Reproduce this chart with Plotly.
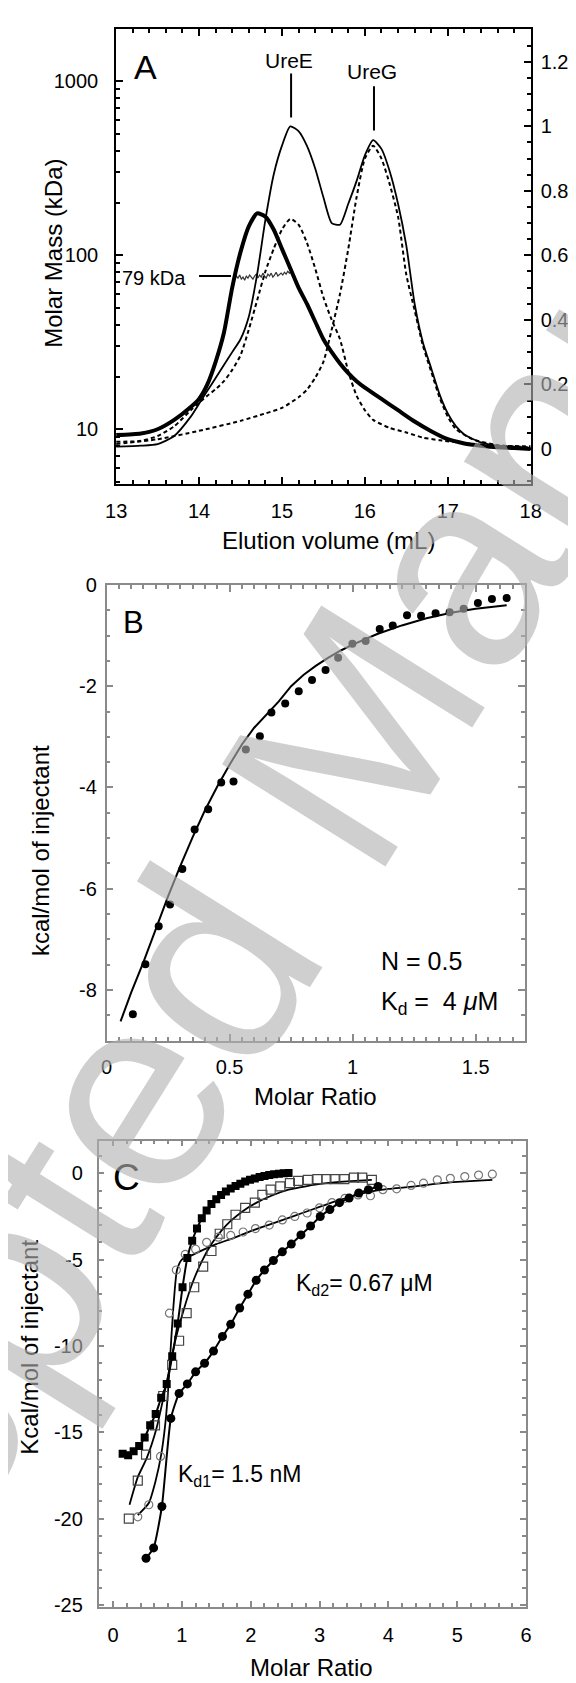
import plotly.graph_objects as go

W, H = 576, 1683
FONT = "Liberation Sans, Arial, Helvetica, sans-serif"

# ---------------- Panel A data ----------------
elution_thick_x = [13.0, 13.3, 13.5, 13.7, 13.9, 14.0, 14.1, 14.2, 14.3, 14.4, 14.5, 14.6, 14.7, 14.8, 14.9,
                   15.0, 15.1, 15.2, 15.3, 15.4, 15.5, 15.6, 15.7, 15.8, 15.9, 16.0, 16.2, 16.4, 16.6, 16.8,
                   17.0, 17.2, 17.4, 17.6, 17.8, 18.0]
elution_thick_y = [0.043, 0.048, 0.061, 0.09, 0.13, 0.155, 0.2, 0.27, 0.36, 0.5, 0.61, 0.69, 0.73, 0.72, 0.68,
                   0.62, 0.56, 0.5, 0.45, 0.395, 0.34, 0.3, 0.265, 0.235, 0.21, 0.19, 0.155, 0.12, 0.085, 0.055,
                   0.03, 0.017, 0.01, 0.005, 0.003, 0.0]

elution_thin_x = [13.0, 13.3, 13.5, 13.7, 13.9, 14.0, 14.1, 14.2, 14.3, 14.4, 14.5, 14.6, 14.7, 14.8, 14.9,
                  15.0, 15.1, 15.2, 15.3, 15.4, 15.5, 15.6, 15.7, 15.8, 15.9, 16.0, 16.1, 16.2, 16.3, 16.4,
                  16.5, 16.6, 16.7, 16.8, 16.9, 17.0, 17.1, 17.2, 17.4, 17.6, 18.0]
elution_thin_y = [0.007, 0.01, 0.015, 0.04, 0.1, 0.14, 0.18, 0.22, 0.26, 0.3, 0.34, 0.41, 0.54, 0.71, 0.85,
                  0.94, 1.0, 0.985, 0.94, 0.87, 0.78, 0.7, 0.695, 0.76, 0.83, 0.91, 0.957, 0.93, 0.86, 0.76,
                  0.63, 0.45, 0.33, 0.25, 0.17, 0.11, 0.07, 0.045, 0.02, 0.01, 0.003]

ureE_dash_x = [13.0, 13.3, 13.5, 13.7, 13.9, 14.0, 14.1, 14.2, 14.3, 14.4, 14.5, 14.6, 14.7, 14.8, 14.9,
               15.0, 15.1, 15.2, 15.3, 15.4, 15.5, 15.6, 15.7, 15.8, 15.9, 16.0, 16.1, 16.3, 16.5, 16.7,
               16.9, 17.2, 17.6, 18.0]
ureE_dash_y = [0.022, 0.025, 0.04, 0.07, 0.12, 0.143, 0.165, 0.185, 0.21, 0.245, 0.29, 0.37, 0.46, 0.55, 0.62,
               0.68, 0.713, 0.695, 0.64, 0.56, 0.47, 0.4, 0.34, 0.24, 0.165, 0.12, 0.09, 0.065, 0.051, 0.035,
               0.027, 0.018, 0.01, 0.008]

ureG_dash_x = [13.0, 13.5, 14.0, 14.5, 14.8, 15.0, 15.2, 15.3, 15.4, 15.5, 15.6, 15.7, 15.8, 15.9, 16.0,
               16.1, 16.2, 16.3, 16.4, 16.5, 16.6, 16.7, 16.8, 16.9, 17.0, 17.1, 17.3, 17.6, 18.0]
ureG_dash_y = [0.015, 0.03, 0.056, 0.087, 0.11, 0.127, 0.16, 0.183, 0.22, 0.27, 0.37, 0.48, 0.62, 0.78, 0.9,
               0.94, 0.9, 0.82, 0.72, 0.54, 0.43, 0.32, 0.24, 0.16, 0.1, 0.061, 0.03, 0.012, 0.005]

mass_x = [14.43, 14.45, 14.47, 14.49, 14.51, 14.53, 14.55, 14.57, 14.59, 14.61, 14.63, 14.65, 14.67, 14.69,
          14.71, 14.73, 14.75, 14.77, 14.79, 14.81, 14.83, 14.85, 14.87, 14.89, 14.91, 14.93, 14.95, 14.97,
          14.99, 15.01, 15.03, 15.05, 15.07, 15.09, 15.11, 15.13]
mass_kda = [73, 76, 74, 77, 73, 75, 72, 76, 74, 77, 75, 73, 76, 78, 74, 77, 75, 79, 76, 74, 78, 76, 79, 75,
            77, 80, 76, 78, 79, 77, 80, 78, 81, 79, 80, 78]

a_mass_ticks = [10, 100, 1000]
a_mass_minor = [5, 6, 7, 8, 9, 20, 30, 40, 50, 60, 70, 80, 90, 200, 300, 400, 500, 600, 700, 800, 900, 2000]

# ---------------- Panel B data ----------------
b_ratio = [0.107, 0.158, 0.212, 0.258, 0.308, 0.358, 0.413, 0.466, 0.516, 0.566, 0.623, 0.670, 0.726, 0.781,
           0.835, 0.890, 0.941, 0.999, 1.053, 1.110, 1.163, 1.221, 1.278, 1.337, 1.394, 1.451, 1.509, 1.566, 1.626]
b_heat = [-8.48, -7.49, -6.74, -6.31, -5.61, -4.83, -4.43, -3.90, -3.88, -3.25, -2.99, -2.52, -2.34, -2.10,
          -1.88, -1.68, -1.44, -1.16, -1.11, -0.87, -0.80, -0.60, -0.61, -0.56, -0.54, -0.47, -0.36, -0.28, -0.26]
b_fit_x = [0.057, 0.1, 0.15, 0.2, 0.25, 0.3, 0.35, 0.4, 0.45, 0.5, 0.55, 0.6, 0.65, 0.7, 0.75, 0.8, 0.85,
           0.9, 0.95, 1.0, 1.1, 1.2, 1.3, 1.4, 1.5, 1.626]
b_fit_y = [-8.62, -8.05, -7.45, -6.8, -6.15, -5.55, -4.98, -4.45, -3.98, -3.55, -3.15, -2.82, -2.55, -2.3,
           -2.0, -1.78, -1.6, -1.44, -1.3, -1.18, -0.97, -0.8, -0.66, -0.55, -0.47, -0.40]
b_ticks = [0, -2, -4, -6, -8]
b_ticktext = ["0", "-2", "-4", "-6", "-8"]

# ---------------- Panel C data ----------------
c_fsq_x = [0.14, 0.22, 0.30, 0.38, 0.46, 0.54, 0.62, 0.70, 0.78, 0.86, 0.94, 1.01, 1.08, 1.15, 1.22, 1.29,
           1.36, 1.43, 1.50, 1.57, 1.64, 1.71, 1.78, 1.85, 1.92, 1.99, 2.06, 2.13, 2.20, 2.27, 2.34, 2.41,
           2.48, 2.55]
c_fsq_y = [-16.25, -16.33, -16.1, -15.8, -15.3, -14.6, -13.95, -13.0, -12.2, -10.6, -8.7, -6.6, -4.9, -3.9,
           -3.2, -2.6, -2.15, -1.78, -1.5, -1.25, -1.05, -0.88, -0.73, -0.6, -0.48, -0.38, -0.3, -0.22, -0.16,
           -0.1, -0.06, -0.03, 0.0, 0.02]

c_osq_x = [0.23, 0.36, 0.48, 0.61, 0.73, 0.86, 0.96, 1.07, 1.18, 1.31, 1.43, 1.55, 1.66, 1.78, 1.92, 2.06,
           2.17, 2.29, 2.43, 2.57, 2.69, 2.83, 2.97, 3.10, 3.22, 3.36, 3.50, 3.62, 3.76]
c_osq_y = [-20.0, -17.8, -16.3, -14.6, -12.9, -11.1, -9.7, -8.1, -6.6, -5.4, -4.5, -3.5, -2.95, -2.4, -2.0,
           -1.7, -1.25, -0.95, -0.76, -0.57, -0.44, -0.38, -0.34, -0.34, -0.34, -0.34, -0.25, -0.25, -0.38]
c_osq_fit_x = [0.24, 0.36, 0.49, 0.63, 0.77, 0.91, 1.02, 1.15, 1.29, 1.43, 1.57, 1.71, 1.9, 2.08, 2.3, 2.55,
               2.8, 3.1, 3.4, 3.76]
c_osq_fit_y = [-19.2, -17.6, -16.5, -14.8, -12.3, -9.6, -8.0, -6.4, -5.1, -4.1, -3.35, -2.76, -2.15, -1.71,
               -1.3, -0.95, -0.75, -0.57, -0.47, -0.38]

c_oci_x = [0.36, 0.52, 0.69, 0.82, 0.92, 1.05, 1.20, 1.36, 1.53, 1.71, 1.89, 2.07, 2.27, 2.46, 2.64, 2.82,
           3.00, 3.18, 3.37, 3.56, 3.74, 3.92, 4.12, 4.33, 4.51, 4.71, 4.90, 5.11, 5.31, 5.51]
c_oci_y = [-19.9, -19.2, -16.4, -8.1, -5.6, -4.7, -4.4, -4.0, -3.7, -3.6, -3.4, -3.2, -3.0, -2.7, -2.5, -2.3,
           -2.0, -1.7, -1.45, -1.25, -1.3, -0.95, -0.9, -0.7, -0.57, -0.38, -0.29, -0.19, -0.1, -0.05]
c_oci_fit_x = [0.36, 0.52, 0.62, 0.70, 0.76, 0.80, 0.84, 0.88, 0.93, 1.0, 1.13, 1.3, 1.5, 1.75, 2.0, 2.25,
               2.5, 2.75, 3.0, 3.25, 3.5, 3.75, 4.0, 4.28, 4.5, 4.78, 5.0, 5.25, 5.51]
c_oci_fit_y = [-19.8, -19.1, -17.8, -16.3, -14.5, -12.6, -10.0, -7.6, -5.6, -5.0, -4.77, -4.45, -4.1, -3.75,
               -3.35, -3.0, -2.65, -2.3, -1.95, -1.6, -1.3, -1.05, -0.9, -0.8, -0.7, -0.57, -0.5, -0.44, -0.38]

c_fci_x = [0.48, 0.59, 0.71, 0.84, 0.96, 1.08, 1.20, 1.33, 1.46, 1.59, 1.71, 1.84, 1.96, 2.08, 2.20, 2.33,
           2.46, 2.59, 2.73, 2.87, 3.01, 3.15, 3.29, 3.43, 3.57, 3.71, 3.85]
c_fci_y = [-22.3, -21.7, -19.3, -14.2, -12.75, -12.2, -11.5, -11.0, -10.3, -9.45, -8.75, -7.8, -7.0, -6.2,
           -5.6, -5.05, -4.55, -4.1, -3.57, -3.05, -2.5, -2.1, -1.7, -1.43, -1.14, -0.95, -0.76]

c_ticks = [0, -5, -10, -15, -20, -25]
c_ticktext = ["0", "-5", "-10", "-15", "-20", "-25"]


def fx(px):
    return px / W


def fy(py):
    return 1 - py / H


fig = go.Figure()

# Panel A traces
fig.add_trace(go.Scatter(x=ureG_dash_x, y=ureG_dash_y, xaxis="x", yaxis="y2", mode="lines",
                         line=dict(color="black", width=2, dash="4px,3px", shape="spline", smoothing=0.6)))
fig.add_trace(go.Scatter(x=ureE_dash_x, y=ureE_dash_y, xaxis="x", yaxis="y2", mode="lines",
                         line=dict(color="black", width=2, dash="4px,3px", shape="spline", smoothing=0.6)))
fig.add_trace(go.Scatter(x=elution_thin_x, y=elution_thin_y, xaxis="x", yaxis="y2", mode="lines",
                         line=dict(color="black", width=1.8, shape="spline", smoothing=0.6)))
fig.add_trace(go.Scatter(x=elution_thick_x, y=elution_thick_y, xaxis="x", yaxis="y2", mode="lines",
                         line=dict(color="black", width=4, shape="spline", smoothing=0.6)))
fig.add_trace(go.Scatter(x=mass_x, y=mass_kda, xaxis="x", yaxis="y", mode="lines",
                         line=dict(color="#333333", width=1.2)))

# Panel B traces
fig.add_trace(go.Scatter(x=b_fit_x, y=b_fit_y, xaxis="x2", yaxis="y3", mode="lines",
                         line=dict(color="black", width=2)))
fig.add_trace(go.Scatter(x=b_ratio, y=b_heat, xaxis="x2", yaxis="y3", mode="markers",
                         marker=dict(color="black", size=8, symbol="circle")))

# Panel C traces
fig.add_trace(go.Scatter(x=c_osq_fit_x, y=c_osq_fit_y, xaxis="x3", yaxis="y4", mode="lines",
                         line=dict(color="black", width=1.8, shape="spline", smoothing=0.6)))
fig.add_trace(go.Scatter(x=c_oci_fit_x, y=c_oci_fit_y, xaxis="x3", yaxis="y4", mode="lines",
                         line=dict(color="black", width=1.8, shape="spline", smoothing=0.6)))
fig.add_trace(go.Scatter(x=c_osq_x, y=c_osq_y, xaxis="x3", yaxis="y4", mode="markers",
                         marker=dict(symbol="square-open", size=9, color="#444444", line=dict(width=1.2))))
fig.add_trace(go.Scatter(x=c_oci_x, y=c_oci_y, xaxis="x3", yaxis="y4", mode="markers",
                         marker=dict(symbol="circle-open", size=8, color="#777777", line=dict(width=1.2))))
fig.add_trace(go.Scatter(x=c_fsq_x, y=c_fsq_y, xaxis="x3", yaxis="y4", mode="lines+markers",
                         line=dict(color="black", width=2, shape="spline", smoothing=0.5),
                         marker=dict(symbol="square", size=8, color="black")))
fig.add_trace(go.Scatter(x=c_fci_x, y=c_fci_y, xaxis="x3", yaxis="y4", mode="lines+markers",
                         line=dict(color="black", width=2, shape="spline", smoothing=0.5),
                         marker=dict(symbol="circle", size=9, color="black")))

tickfont = dict(family=FONT, size=20, color="black")
GRAY = "#8a8a8a"

common = dict(ticks="inside", showgrid=False, zeroline=False, showline=True, tickfont=tickfont)

fig.update_layout(
    width=W, height=H, margin=dict(l=0, r=0, t=0, b=0),
    paper_bgcolor="white", plot_bgcolor="rgba(0,0,0,0)", showlegend=False,
    font=dict(family=FONT, color="black"),
    xaxis=dict(domain=[fx(101), fx(532)], anchor="y", range=[13, 18], tick0=13, dtick=1,
               linecolor="black", linewidth=2, tickcolor="black", ticklen=7, tickwidth=1.5,
               mirror="ticks", ticklabelstandoff=8,
               minor=dict(ticks="inside", dtick=0.2, ticklen=4, tickcolor="black"), **common),
    yaxis=dict(domain=[fy(471), fy(10)], anchor="x", type="log", range=[0.683, 3.302],
               tickvals=a_mass_ticks, ticktext=[str(v) for v in a_mass_ticks],
               linecolor="black", linewidth=2, tickcolor="black", ticklen=7, tickwidth=1.5,
               ticklabelstandoff=12,
               minor=dict(ticks="inside", tickvals=a_mass_minor, ticklen=4, tickcolor="black"), **common),
    yaxis2=dict(overlaying="y", side="right", anchor="x", range=[-0.11, 1.302], tick0=0, dtick=0.2,
                linecolor="black", linewidth=2, tickcolor="black", ticklen=7, tickwidth=1.5,
                ticklabelstandoff=4,
                minor=dict(ticks="inside", dtick=0.05, ticklen=4, tickcolor="black"), **common),
    xaxis2=dict(domain=[fx(91), fx(526)], anchor="y3", range=[0, 1.7], tick0=0, dtick=0.5,
                linecolor=GRAY, linewidth=1.5, tickcolor=GRAY, ticklen=7, tickwidth=1.5,
                mirror="ticks", ticklabelstandoff=8,
                minor=dict(ticks="inside", dtick=0.05, ticklen=4, tickcolor=GRAY), **common),
    yaxis3=dict(domain=[fy(1034), fy(572.7)], anchor="x2", range=[-9, 0],
                tickvals=b_ticks, ticktext=b_ticktext,
                linecolor=GRAY, linewidth=1.5, tickcolor=GRAY, ticklen=7, tickwidth=1.5,
                mirror="ticks", ticklabelstandoff=4,
                minor=dict(ticks="inside", dtick=0.5, ticklen=4, tickcolor=GRAY), **common),
    xaxis3=dict(domain=[fx(82.7), fx(527.2)], anchor="y4", range=[-0.21, 6.0], tick0=0, dtick=1,
                linecolor=GRAY, linewidth=1.5, tickcolor=GRAY, ticklen=6, tickwidth=1.5,
                mirror="ticks", ticklabelstandoff=10,
                minor=dict(ticks="inside", dtick=0.2, ticklen=4, tickcolor=GRAY), **common),
    yaxis4=dict(domain=[fy(1606.7), fy(1135)], anchor="x3", range=[-25.1, 1.9],
                tickvals=c_ticks, ticktext=c_ticktext,
                linecolor=GRAY, linewidth=1.5, tickcolor=GRAY, ticklen=6, tickwidth=1.5,
                mirror="ticks", ticklabelstandoff=10,
                minor=dict(ticks="inside", dtick=1, ticklen=4, tickcolor=GRAY), **common),
)

shapes = []
# UreE / UreG / 79 kDa pointer lines
shapes.append(dict(type="line", xref="x", yref="y2", x0=15.11, x1=15.11, y0=1.164, y1=1.027,
                   line=dict(color="black", width=2)))
shapes.append(dict(type="line", xref="x", yref="y2", x0=16.11, x1=16.11, y0=1.124, y1=0.987,
                   line=dict(color="black", width=2)))
shapes.append(dict(type="line", xref="x", yref="y", x0=14.0, x1=14.385, y0=76, y1=76,
                   line=dict(color="black", width=2)))
fig.update_layout(shapes=shapes)


def ann(text, px, py, size, xanchor="center", yanchor="middle", angle=0, color="black"):
    return dict(text=text, x=fx(px), y=fy(py), xref="paper", yref="paper", showarrow=False,
                xanchor=xanchor, yanchor=yanchor, textangle=angle,
                font=dict(family=FONT, size=size, color=color))


annotations = [
    ann("A", 132, 49, 34),
    ann("UreE", 281, 42, 21),
    ann("UreG", 367, 53, 21),
    ann("79 kDa", 140, 262, 20),
    ann("Molar Mass (kDa)", 36, 237, 24, angle=-90),
    ann("Elution volume (mL)", 322, 528, 24),
    ann("B", 119, 611, 31),
    ann("N = 0.5", 374, 953, 25, xanchor="left"),
    ann("K<sub>d</sub> =  4 <i>μ</i>M", 374, 996, 25, xanchor="left"),
    ann("kcal/mol of injectant", 23, 842, 24, angle=-90),
    ann("Molar Ratio", 308, 1090, 24),
    ann("C", 112, 1172, 37),
    ann("K<sub>d2</sub>= 0.67 μM", 286, 1281, 23, xanchor="left"),
    ann("K<sub>d1</sub>= 1.5 nM", 163, 1474, 23, xanchor="left"),
    ann("Kcal/mol of injectant", 10, 1344, 24, angle=-90),
    ann("Molar Ratio", 304, 1668, 24),
    ann("Accepted Manuscript", 318, 772, 280, angle=-58, color="rgba(178,178,178,0.62)"),
]
fig.update_layout(annotations=annotations)

fig.write_html("out.html")
